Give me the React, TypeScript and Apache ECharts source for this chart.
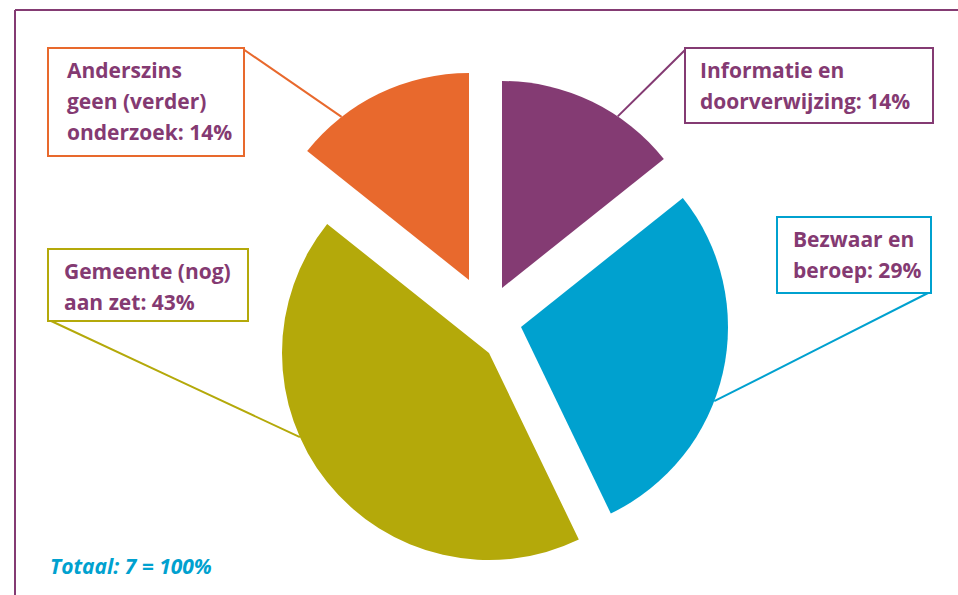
import React, { useEffect, useRef } from 'react';
import * as echarts from 'echarts';

// ---- data ----
const categories = [
  'Informatie en\ndoorverwijzing',
  'Bezwaar en\nberoep',
  'Gemeente (nog)\naan zet',
  'Anderszins\ngeen (verder)\nonderzoek',
];
const values = [1, 2, 3, 1];
const totalLabel = 'Totaal';

// ---- styling / layout ----
const colors = ['#843b73', '#00a1cf', '#b4a90a', '#e8692d'];
const textColor = '#843a72';
const sliceCenters = [
  [502, 288],
  [521, 327],
  [489, 353],
  [469, 280],
];
const radius = 207;
// [left, top, width, height, paddingLeft]
const boxes = [
  [686, 49, 246, 73, 14],
  [778, 218, 152, 74, 15],
  [49, 250, 198, 70, 15],
  [49, 49, 194, 106, 18],
];
const lineCorners = [
  [686, 49],
  [930, 292],
  [49, 320],
  [243, 49],
];
const anchorAngles = [34, 111, 246, 322];
const FONT = 'Open Sans';

export default function App() {
  const ref = useRef<HTMLDivElement>(null);
  useEffect(() => {
    document.body.style.margin = '0';
    const chart = echarts.init(ref.current!, null, { renderer: 'svg' });
    const total = values.reduce((a, b) => a + b, 0);
    const padTop = 5;
    const series = values.map((_, k) => {
      const [cx, cy] = sliceCenters[k];
      const a = (anchorAngles[k] * Math.PI) / 180;
      const anchor = [cx + radius * Math.sin(a), cy - radius * Math.cos(a)];
      const corner = lineCorners[k];
      const mid = [(anchor[0] + corner[0]) / 2, (anchor[1] + corner[1]) / 2];
      const [bx, by, bw, bh, pl] = boxes[k];
      return {
        type: 'pie',
        center: [cx, cy],
        radius: radius,
        startAngle: 90,
        clockwise: true,
        silent: true,
        avoidLabelOverlap: false,
        itemStyle: { borderWidth: 0 },
        data: values.map((v, i) => ({
          name: categories[i],
          value: v,
          itemStyle: { color: i === k ? colors[i] : 'rgba(0,0,0,0)', borderWidth: 0 },
          label: { show: i === k },
          labelLine: { show: i === k },
        })),
        label: {
          show: true,
          position: 'outside',
          color: textColor,
          fontFamily: FONT,
          fontWeight: 'bold',
          fontSize: 21,
          lineHeight: 31,
          backgroundColor: '#ffffff',
          borderColor: colors[k],
          borderWidth: 2,
          padding: [padTop, 0, 0, pl],
          width: bw - pl,
          height: bh - padTop,
          overflow: 'none',
          formatter: (p: any) =>
            `${categories[p.dataIndex]}: ${Math.round((p.value / total) * 100)}%`,
        },
        labelLine: {
          show: true,
          length: 10,
          length2: 10,
          lineStyle: { color: colors[k], width: 2 },
        },
        labelLayout: (p: any) =>
          p.dataIndex === k
            ? {
                x: bx,
                y: by,
                align: 'left',
                verticalAlign: 'top',
                labelLinePoints: [anchor, mid, corner],
              }
            : {},
      };
    });

    chart.setOption({
      animation: false,
      backgroundColor: '#ffffff',
      title: {
        text: `${totalLabel}: ${total} = 100%`,
        left: 45,
        top: 550,
        textStyle: {
          color: '#00a1cf',
          fontFamily: FONT,
          fontStyle: 'italic',
          fontWeight: 'bold',
          fontSize: 21,
        },
      },
      graphic: [
        {
          type: 'line',
          shape: { x1: 15, y1: 10, x2: 958, y2: 10 },
          style: { stroke: '#843b73', lineWidth: 2 },
        },
        {
          type: 'line',
          shape: { x1: 15, y1: 10, x2: 15, y2: 595 },
          style: { stroke: '#843b73', lineWidth: 2 },
        },
      ],
      series,
    });
    return () => chart.dispose();
  }, []);
  return <div ref={ref} style={{ position: 'fixed', left: 0, top: 0, width: 958, height: 595 }} />;
}
